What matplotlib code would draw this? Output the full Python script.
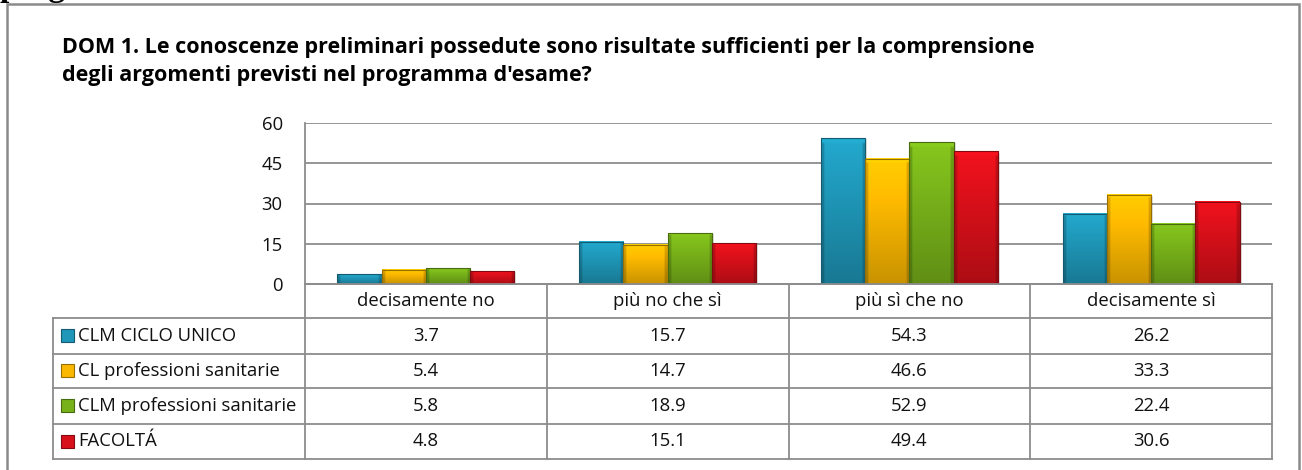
import numpy as np
import matplotlib
matplotlib.use("Agg")
import matplotlib.pyplot as plt
from matplotlib.colors import to_rgb

# ---------------- data ----------------
categories = ["decisamente no", "più no che sì", "più sì che no", "decisamente sì"]
series_names = ["CLM CICLO UNICO", "CL professioni sanitarie",
                "CLM professioni sanitarie", "FACOLTÁ"]
clm_ciclo_unico = [3.7, 15.7, 54.3, 26.2]
cl_prof_sanitarie = [5.4, 14.7, 46.6, 33.3]
clm_prof_sanitarie = [5.8, 18.9, 52.9, 22.4]
facolta = [4.8, 15.1, 49.4, 30.6]
yticks = [0, 15, 30, 45, 60]
title_line1 = "DOM 1. Le conoscenze preliminari possedute sono risultate sufficienti per la comprensione"
title_line2 = "degli argomenti previsti nel programma d'esame?"

series_values = [clm_ciclo_unico, cl_prof_sanitarie, clm_prof_sanitarie, facolta]
series_colors = ["#1f97b8", "#fbb800", "#78b21a", "#d8101a"]

FONT = "Open Sans"
GRID = "#8c8c8c"
W, H = 1302, 470

fig = plt.figure(figsize=(W / 100, H / 100), dpi=100)

def fx(px):
    return px / W

def fy(py):
    return 1 - py / H

# ---------------- chart axes ----------------
ax_l, ax_r, ax_t, ax_b = 305, 1272, 123, 284
ax = fig.add_axes([fx(ax_l), fy(ax_b), fx(ax_r - ax_l), (ax_b - ax_t) / H])
ax.set_xlim(0, len(categories))
ax.set_ylim(0, 60)
ax.set_yticks(yticks)
ax.set_yticklabels([str(t) for t in yticks], fontfamily=FONT, fontsize=13.3)
ax.tick_params(axis="y", length=0, pad=16, colors="#111111")
ax.set_xticks([])
for s in ["top", "right"]:
    ax.spines[s].set_visible(False)
ax.spines["left"].set_color(GRID)
ax.spines["bottom"].set_color(GRID)
ax.spines["left"].set_linewidth(1.3)
ax.spines["bottom"].set_linewidth(1.3)
for t in yticks[1:]:
    ax.axhline(t, color=GRID, lw=1.3, zorder=0)


def bar_image(color, n=60, m=40):
    c = np.array(to_rgb(color))
    yy = np.linspace(0, 1, n)[:, None]  # 0 top -> 1 bottom
    xx = np.linspace(0, 1, m)[None, :]
    f = 1.12 - 0.32 * yy
    f = f * np.ones((n, m))
    edge = np.minimum(xx, 1 - xx) * np.ones((n, 1))
    f = np.where(edge < 0.07, f * 0.82, f)
    img = np.clip(c[None, None, :] * f[:, :, None], 0, 1)
    img[:2, :, :] = np.clip(c * 1.15, 0, 1)
    return img


bar_w = 0.183
group_w = bar_w * len(series_values)
for si, (vals, col) in enumerate(zip(series_values, series_colors)):
    img = bar_image(col)
    for ci, v in enumerate(vals):
        x0 = ci + 0.5 - group_w / 2 + si * bar_w
        ax.add_patch(plt.Rectangle((x0 + 0.008, 0), bar_w, v - 0.4,
                                   color="#000000", alpha=0.12, zorder=2, lw=0))
        ax.imshow(img, extent=[x0, x0 + bar_w, 0, v], aspect="auto",
                  zorder=3, interpolation="bilinear")
        ax.add_patch(plt.Rectangle((x0, 0), bar_w, v, fill=False,
                                   ec=tuple(np.array(to_rgb(col)) * 0.6), lw=0.8, zorder=4))
ax.set_xlim(0, len(categories))
ax.set_ylim(0, 60)

# ---------------- overlay in pixel coords ----------------
ov = fig.add_axes([0, 0, 1, 1], facecolor="none")
ov.set_xlim(0, W)
ov.set_ylim(H, 0)
ov.axis("off")

# outer border
ov.plot([7, 7, 1299, 1299], [H + 5, 4, 4, H + 5], color="#8a8a8a", lw=1.8,
        solid_joinstyle="miter", clip_on=False)
# cut-off text in top-left corner (as in the source page)
fig.text(0.0, 1 + 4 / H, "prog", fontfamily="Liberation Serif", fontweight="bold",
         fontsize=24, va="baseline", ha="left")

# title
ov.text(62, 47, title_line1, fontfamily=FONT, fontweight="bold",
        fontsize=15.5, va="center", ha="left", color="#000000")
ov.text(62, 75, title_line2, fontfamily=FONT, fontweight="bold",
        fontsize=15.5, va="center", ha="left", color="#000000")

# table
col_w = (ax_r - ax_l) / len(categories)
row_lines = [284, 318, 354, 388, 424, 459]
left_col = 53
tkw = dict(color=GRID, lw=1.3, solid_capstyle="projecting")
ov.plot([ax_l, ax_r], [row_lines[0]] * 2, **tkw)
for yl in row_lines[1:]:
    ov.plot([left_col, ax_r], [yl] * 2, **tkw)
for k in range(len(categories) + 1):
    xk = ax_l + k * col_w
    ov.plot([xk, xk], [row_lines[0], row_lines[-1]], **tkw)
ov.plot([left_col, left_col], [row_lines[1], row_lines[-1]], **tkw)

tf = dict(fontfamily=FONT, fontsize=13.3, color="#111111")
for ci, cat in enumerate(categories):
    xc = ax_l + (ci + 0.5) * col_w
    ov.text(xc, (row_lines[0] + row_lines[1]) / 2, cat, ha="center", va="center", **tf)
for si, (name, vals, col) in enumerate(zip(series_names, series_values, series_colors)):
    yc = (row_lines[si + 1] + row_lines[si + 2]) / 2
    c = np.array(to_rgb(col))
    ov.add_patch(plt.Rectangle((61, yc - 7), 13, 13, fc=col,
                               ec=tuple(c * 0.6), lw=0.8))
    ov.text(78, yc, name, ha="left", va="center", **tf)
    for ci, v in enumerate(vals):
        xc = ax_l + (ci + 0.5) * col_w
        ov.text(xc, yc, f"{v:.1f}", ha="center", va="center", **tf)

fig.savefig("out.png", dpi=100, facecolor="white")
